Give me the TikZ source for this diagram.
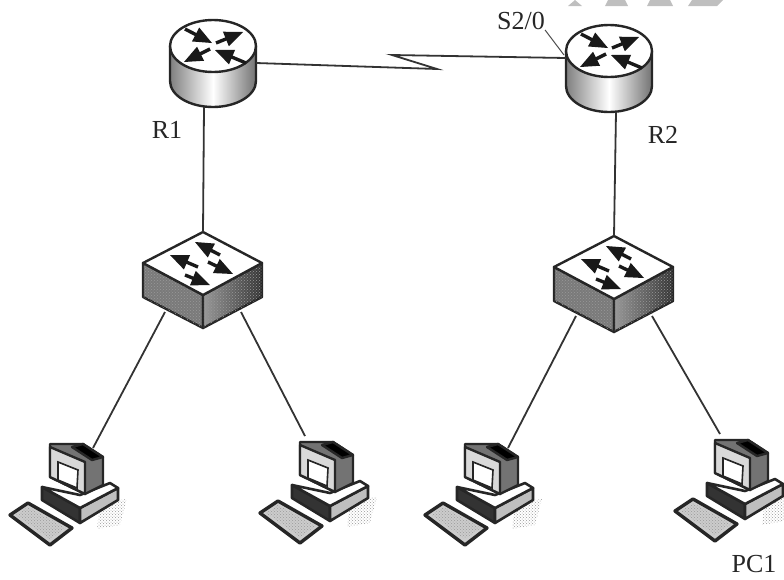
\documentclass[tikz,border=0pt]{standalone}
\usepackage{fontspec}
\setmainfont{Liberation Serif}
\usetikzlibrary{arrows,patterns}
\begin{document}
\begin{tikzpicture}[
            x=1pt,
            y=-1pt,
            edge/.style={draw=black!80,line width=1.8pt},
            outline/.style={draw=black!85,line width=2.4pt,line join=round},
            flowarrow/.style={line width=3.4pt,black!90,-triangle 45},
            label/.style={font=\fontsize{26}{26}\selectfont,text=black!85,inner sep=0pt},
            smudge/.style={pattern=crosshatch dots,pattern color=black!40,draw=none},
            router/.pic={
              \path[outline,left color=black!50,right color=black!55,middle color=white]
                (-43,0) -- (-43,35) arc (180:0:43 and 26) -- (43,0) -- cycle;
              \draw[outline,fill=white] (0,0) ellipse (43 and 26);
              \draw[flowarrow] (-28,-17) -- (-1,-3);
              \draw[flowarrow] (33,17) -- (2,4);
              \draw[flowarrow] (3,-3) -- (30,-14);
              \draw[flowarrow] (-3,3) -- (-29,16);
              \coordinate (-w) at (-43,7);
              \coordinate (-e) at (43,17);
              \coordinate (-s) at (0,61);
            },
            switch/.pic={
              \path[outline,fill=black!52] (-60,31) -- (-60,65) -- (0,96) -- (0,63) -- cycle;
              \path[smudge] (-60,31) -- (-60,65) -- (0,96) -- (0,63) -- cycle;
              \path[outline,left color=black!40,right color=black!80] (0,63) -- (0,96) -- (59,65) -- (59,31) -- cycle;
              \path[smudge] (0,63) -- (0,96) -- (59,65) -- (59,31) -- cycle;
              \draw[outline,fill=white] (0,0) -- (59,31) -- (0,63) -- (-60,31) -- cycle;
              \draw[flowarrow] (17,23) -- (-8,10);
              \draw[flowarrow] (-5,35) -- (-33,23);
              \draw[flowarrow] (5,30) -- (30,42);
              \draw[flowarrow] (-18,43) -- (7,53);
              \coordinate (-n) at (0,0);
              \coordinate (-sw) at (-38,80);
              \coordinate (-se) at (38,80);
            },
            computer/.pic={
              \path[smudge] (48,56) -- (75,52) -- (68,78) -- (45,82) -- cycle;
              \draw[outline,line width=2.6pt,fill=black!80] (-10,40) -- (-10,53) -- (28,76) -- (28,61) -- cycle;
              \draw[outline,line width=2.6pt,fill=black!25] (28,61) -- (28,76) -- (66,53) -- (66,41) -- cycle;
              \draw[outline,line width=2.6pt,fill=white] (-10,40) -- (28,61) -- (66,41) -- (58,36) -- (28,48) -- cycle;
              \draw[outline,fill=black!55] (-2,-3) -- (31,-3) -- (51,10) -- (51,38) -- (33,47) -- (-2,30) -- cycle;
              \draw[outline,fill=black!15] (-2,0) -- (33,15) -- (33,47) -- (-2,30) -- cycle;
              \draw[outline,fill=black] (31,-3) -- (51,10) -- (40,13) -- (20,0) -- cycle;
              \draw[draw=black!85,line width=1.6pt,fill=white] (6,15) -- (26,23) -- (25,41) -- (6,33) -- cycle;
              \draw[outline,line width=3.4pt,fill=black!20] (-42,68) -- (-24,56) -- (20,81) -- (-2,98) -- cycle;
              \path[smudge] (-36,68) -- (-24,60) -- (14,81) -- (-2,92) -- cycle;
              \coordinate (-nw) at (3,-9);
              \coordinate (-ne) at (41,1);
            },
          ]
          \useasboundingbox (0,0) rectangle (784,579);
          \fill[black!25] (568,6) -- (575,0) -- (582,6) -- cycle;
          \fill[black!25] (605,6) -- (608,0) -- (625,0) -- (628,6) -- cycle;
          \fill[black!25] (647,6) -- (650,0) -- (670,0) -- (673,6) -- cycle;
          \fill[black!25] (688,6) -- (692,0) -- (723,0) -- (717,6) -- cycle;

          \pic (rone) at (213,46) {router};
          \pic (rtwo) at (609,51) {router};
          \pic (swone) at (203,232) {switch};
          \pic (swtwo) at (614,236) {switch};
          \pic (pca) at (52,447) {computer};
          \pic (pcb) at (302,445) {computer};
          \pic (pcc) at (467,447) {computer};
          \pic (pcd) at (717,443) {computer};

          \coordinate (zigend) at (437,69);
          \coordinate (zigstart) at (392,55);
          \node[label] (lrone) at (167,130) {R1};
          \node[label] (lrtwo) at (663,135) {R2};
          \node[label] (lsport) at (521,21) {S2/0};
          \node[label] (lpc) at (754,564) {PC1};
          \coordinate (porttip) at (564,55);

          \draw[edge] (rone-e) -- (zigend) -- (zigstart) -- (rtwo-w);
          \draw[edge] ([xshift=-9pt]rone-s) -- (swone-n);
          \draw[edge] ([xshift=7pt]rtwo-s) -- (swtwo-n);
          \draw[edge] (swone-sw) -- (pca-ne);
          \draw[edge] (swone-se) -- (pcb-nw);
          \draw[edge] (swtwo-sw) -- (pcc-ne);
          \draw[edge] (swtwo-se) -- (pcd-nw);
          \draw[black!70,line width=1pt] (lsport.south east) -- (porttip);
          \end{tikzpicture}
\end{document}
